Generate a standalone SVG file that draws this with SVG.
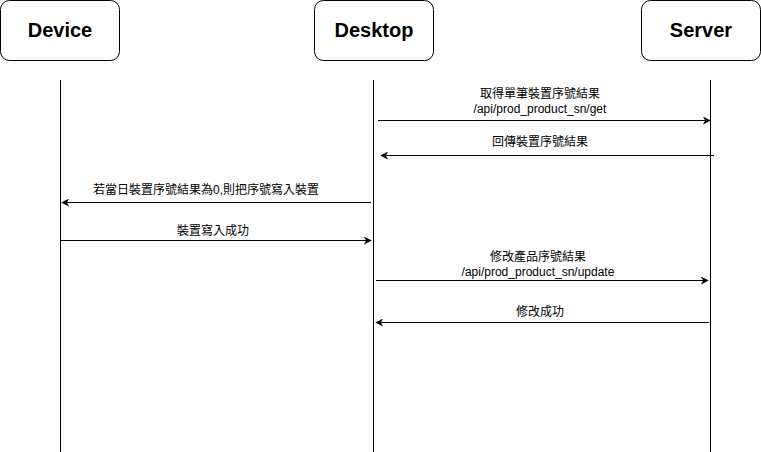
<svg xmlns="http://www.w3.org/2000/svg" width="761" height="452" viewBox="0 0 761 452">
<style>
.box{fill:#fff;stroke:#000;stroke-width:1}
.title{font-family:"Liberation Sans",Arial,sans-serif;font-weight:bold;font-size:20px;text-anchor:middle}
.life{stroke:#000;stroke-width:1;fill:none}
.msg{stroke:#000;stroke-width:1;fill:none;marker-end:url(#arr)}
.lbl{font-family:"Liberation Sans","Noto Sans CJK TC",Arial,sans-serif;font-size:12px;text-anchor:middle;fill:#000}
</style>
<defs>
<marker id="arr" viewBox="0 0 10 10" refX="9" refY="5" markerWidth="8" markerHeight="8" markerUnits="userSpaceOnUse" orient="auto">
<path d="M0,0 L10,5 L0,10 L3,5 Z" fill="#000"/>
</marker>
</defs>
<rect width="761" height="452" fill="#fff"/>
<g id="device">
<rect class="box" x="0.5" y="0.5" width="119" height="60" rx="9"/>
<text class="title" x="60" y="37">Device</text>
</g>
<g id="desktop">
<rect class="box" x="314.5" y="0.5" width="119" height="60" rx="9"/>
<text class="title" x="374" y="37">Desktop</text>
</g>
<g id="server">
<rect class="box" x="641.5" y="0.5" width="119" height="60" rx="9"/>
<text class="title" x="701" y="37">Server</text>
</g>
<g id="lifelines">
<line class="life" x1="60.5" y1="80" x2="60.5" y2="452"/>
<line class="life" x1="373.5" y1="80" x2="373.5" y2="452"/>
<line class="life" x1="710.5" y1="80" x2="710.5" y2="452"/>
</g>
<g id="connectors">
<line class="msg" x1="378" y1="120.5" x2="710" y2="120.5"/>
<line class="msg" x1="714" y1="155.5" x2="381" y2="155.5"/>
<line class="msg" x1="371" y1="202.5" x2="62" y2="202.5"/>
<line class="msg" x1="60" y1="240.5" x2="371" y2="240.5"/>
<line class="msg" x1="376" y1="280.5" x2="708" y2="280.5"/>
<line class="msg" x1="709" y1="322.5" x2="376" y2="322.5"/>
</g>
<g id="labels">
<text class="lbl" x="540" y="98">取得單筆裝置序號結果</text>
<text class="lbl" x="540" y="113">/api/prod_product_sn/get</text>
<text class="lbl" x="540" y="146">回傳裝置序號結果</text>
<text class="lbl" x="206" y="194">若當日裝置序號結果為0,則把序號寫入裝置</text>
<text class="lbl" x="213" y="235">裝置寫入成功</text>
<text class="lbl" x="538" y="261">修改產品序號結果</text>
<text class="lbl" x="538" y="276">/api/prod_product_sn/update</text>
<text class="lbl" x="540" y="316">修改成功</text>
</g>
</svg>
